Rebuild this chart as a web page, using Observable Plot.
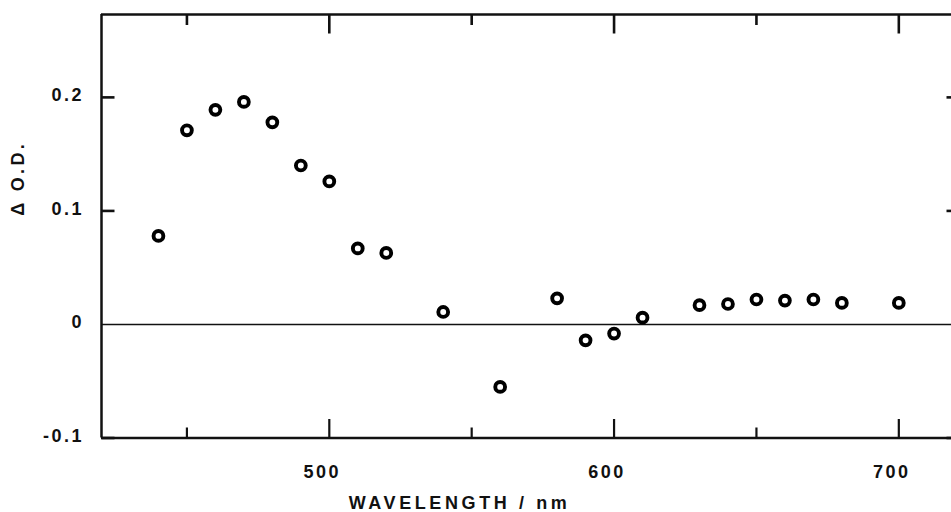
<!DOCTYPE html>
<html><head><meta charset="utf-8">
<script src="https://cdn.jsdelivr.net/npm/d3@7"></script>
<script src="https://cdn.jsdelivr.net/npm/@observablehq/plot@0.6"></script>
<style>
body{margin:0;background:#fff;}
#chart text{font-family:"Liberation Sans",Arial,sans-serif;font-weight:bold;fill:#111;}
</style>
</head><body><div id="chart"></div>
<script>
// Data
const wavelengths = [440,450,460,470,480,490,500,510,520,540,560,580,590,600,610,630,640,650,660,670,680,700];
const deltaOD     = [0.078,0.171,0.189,0.196,0.178,0.140,0.126,0.067,0.063,0.011,-0.055,0.023,-0.014,-0.008,0.006,0.017,0.018,0.022,0.021,0.022,0.019,0.019];
const xDomain = [420, 718.5];
const yDomain = [-0.1, 0.273];
const xMajorTicks = [500, 600, 700];
const xMinorTicks = [450, 550, 650];
const xTickLabels = ["500", "600", "700"];
const yTicks = [0.2, 0.1, 0, -0.1];
const yTickLabels = ["0.2", "0.1", "0", "-0.1"];
const yMarkedTicks = [0.2, 0.1, -0.1];
const xTitle = "WAVELENGTH / nm";
const yTitle = "Δ O.D.";

const points = wavelengths.map((w, i) => ({w, v: deltaOD[i]}));
const line = {draw(ctx, l) { ctx.moveTo(0, 0); ctx.lineTo(0, -l); }};
const tickStyle = {shape: line, anchor: "start", stroke: "#111", strokeLinecap: "butt"};

const chart = Plot.plot({
  width: 951,
  height: 512,
  marginLeft: 101,
  marginRight: 0,
  marginTop: 14,
  marginBottom: 74.5,
  x: {domain: xDomain, axis: null},
  y: {domain: yDomain, axis: null},
  marks: [
    Plot.ruleX([xDomain[0]], {stroke: "#111", strokeWidth: 2.5}),
    Plot.ruleY([yDomain[1]], {stroke: "#111", strokeWidth: 2.5}),
    Plot.ruleY([yDomain[0]], {stroke: "#111", strokeWidth: 2.4}),
    Plot.ruleY([0], {stroke: "#111", strokeWidth: 1.6}),
    Plot.vector(xMajorTicks, {...tickStyle, x: d => d, frameAnchor: "bottom", rotate: 0, length: 19, strokeWidth: 2.2}),
    Plot.vector(xMinorTicks, {...tickStyle, x: d => d, frameAnchor: "bottom", rotate: 0, length: 10.5, strokeWidth: 2.2}),
    Plot.vector(xMajorTicks, {...tickStyle, x: d => d, frameAnchor: "top", rotate: 180, length: 19, strokeWidth: 2.6}),
    Plot.vector(xMinorTicks, {...tickStyle, x: d => d, frameAnchor: "top", rotate: 180, length: 10.5, strokeWidth: 2.6}),
    Plot.vector(yMarkedTicks, {...tickStyle, y: d => d, frameAnchor: "left", rotate: 90, length: 13, strokeWidth: 2.6}),
    Plot.vector(yMarkedTicks, {...tickStyle, y: d => d, frameAnchor: "right", rotate: -90, length: 5, strokeWidth: 2.6}),
    Plot.dot(points, {x: "w", y: "v", r: 4.9, stroke: "#000", strokeWidth: 3.9, fill: "none"}),
    Plot.text(xMajorTicks, {x: d => d, text: (d, i) => xTickLabels[i], frameAnchor: "bottom", dx: -7, dy: 39.5, lineAnchor: "bottom", fontSize: 18}),
    Plot.text(yTicks, {y: d => d, text: (d, i) => yTickLabels[i], frameAnchor: "left", dx: -17.5, dy: -2, textAnchor: "end", lineAnchor: "middle", fontSize: 18}),
    Plot.text([xTitle], {text: d => d, frameAnchor: "bottom", dx: -67, dy: 70.5, lineAnchor: "bottom", fontSize: 18}),
    Plot.text([yTitle], {text: d => d, frameAnchor: "left", dx: -83, dy: -10.5, rotate: -90, lineAnchor: "middle", fontSize: 18})
  ]
});
d3.select(chart).selectAll("text")
  .style("letter-spacing", function() {
    const t = this.textContent;
    return t === xTitle ? "3.6px" : t === yTitle ? "3.3px" : "2.5px";
  });
document.getElementById("chart").appendChild(chart);
</script>
</body></html>
